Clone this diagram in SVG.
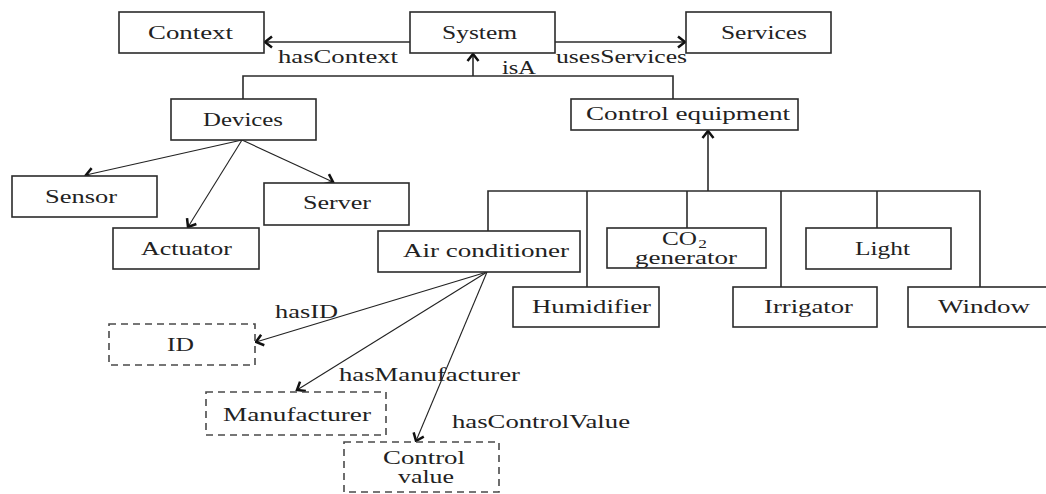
<svg xmlns="http://www.w3.org/2000/svg" width="1046" height="494" viewBox="0 0 1046 494">
  <style>
    .box { fill: #fff; stroke: #2b2b2b; stroke-width: 1.6; }
    .dbox { fill: #fff; stroke: #4a4a4a; stroke-width: 1.6; stroke-dasharray: 7 5; }
    .t { font-family: "Liberation Serif", "Times New Roman", serif; font-size: 19px; fill: #222; }
    .sub { font-family: "Liberation Serif", "Times New Roman", serif; font-size: 13px; fill: #222; }
    .edge { fill: none; stroke: #2b2b2b; stroke-width: 1.6; }
    .thin { fill: none; stroke: #222; stroke-width: 1.1; }
  </style>
  <defs>
    <marker id="chev" markerUnits="userSpaceOnUse" markerWidth="14" markerHeight="14" viewBox="-10 -7 12 14" refX="0" refY="0" orient="auto">
      <path d="M-7,-5.5 L0,0 L-7,5.5" fill="none" stroke="#111" stroke-width="2.5" stroke-linejoin="miter"/>
    </marker>
  </defs>

  <!-- connectors -->
  <g id="connectors">
    <!-- System relations -->
    <line class="edge" x1="410" y1="42" x2="265" y2="42" marker-end="url(#chev)"/>
    <line class="edge" x1="555" y1="42" x2="685" y2="42" marker-end="url(#chev)"/>
    <!-- isA tree -->
    <path class="edge" d="M243,99 V76 H673 V99"/>
    <line class="edge" x1="473" y1="76" x2="473" y2="54" marker-end="url(#chev)"/>
    <!-- control equipment bus -->
    <line class="edge" x1="708" y1="191" x2="708" y2="131" marker-end="url(#chev)"/>
    <path class="edge" d="M488,231 V191 H980 V287"/>
    <line class="edge" x1="587" y1="191" x2="587" y2="287"/>
    <line class="edge" x1="687" y1="191" x2="687" y2="228"/>
    <line class="edge" x1="781" y1="191" x2="781" y2="287"/>
    <line class="edge" x1="877" y1="191" x2="877" y2="228"/>
    <!-- device kinds -->
    <line class="thin" x1="242" y1="140" x2="86" y2="175" marker-end="url(#chev)"/>
    <line class="thin" x1="242" y1="140" x2="188" y2="227" marker-end="url(#chev)"/>
    <line class="thin" x1="242" y1="140" x2="333" y2="182" marker-end="url(#chev)"/>
    <!-- air conditioner properties -->
    <line class="thin" x1="487" y1="272" x2="256" y2="342" marker-end="url(#chev)"/>
    <line class="thin" x1="487" y1="272" x2="297" y2="390" marker-end="url(#chev)"/>
    <line class="thin" x1="487" y1="272" x2="416" y2="441" marker-end="url(#chev)"/>
    <!-- edge labels -->
    <text class="t" x="278" y="63" textLength="120" lengthAdjust="spacingAndGlyphs">hasContext</text>
    <text class="t" x="556" y="63" textLength="131" lengthAdjust="spacingAndGlyphs">usesServices</text>
    <text class="t" x="502" y="74" textLength="34" lengthAdjust="spacingAndGlyphs">isA</text>
    <text class="t" x="275" y="318" textLength="63" lengthAdjust="spacingAndGlyphs">hasID</text>
    <text class="t" x="339" y="381" textLength="181" lengthAdjust="spacingAndGlyphs">hasManufacturer</text>
    <text class="t" x="452" y="428" textLength="178" lengthAdjust="spacingAndGlyphs">hasControlValue</text>
  </g>

  <!-- nodes -->
  <g id="context">
    <rect class="box" x="119" y="12" width="145" height="41"/>
    <text class="t" x="148" y="39" textLength="85" lengthAdjust="spacingAndGlyphs">Context</text>
  </g>
  <g id="system">
    <rect class="box" x="410" y="12" width="145" height="41"/>
    <text class="t" x="442" y="39" textLength="75" lengthAdjust="spacingAndGlyphs">System</text>
  </g>
  <g id="services">
    <rect class="box" x="686" y="12" width="145" height="41"/>
    <text class="t" x="721" y="39" textLength="86" lengthAdjust="spacingAndGlyphs">Services</text>
  </g>
  <g id="devices">
    <rect class="box" x="171" y="99" width="145" height="41"/>
    <text class="t" x="203" y="126" textLength="80" lengthAdjust="spacingAndGlyphs">Devices</text>
  </g>
  <g id="control-equipment">
    <rect class="box" x="571" y="99" width="227" height="31"/>
    <text class="t" x="586" y="120" textLength="204" lengthAdjust="spacingAndGlyphs">Control equipment</text>
  </g>
  <g id="sensor">
    <rect class="box" x="12" y="176" width="145" height="41"/>
    <text class="t" x="45" y="203" textLength="72" lengthAdjust="spacingAndGlyphs">Sensor</text>
  </g>
  <g id="server">
    <rect class="box" x="264" y="183" width="145" height="42"/>
    <text class="t" x="303" y="209" textLength="68" lengthAdjust="spacingAndGlyphs">Server</text>
  </g>
  <g id="actuator">
    <rect class="box" x="113" y="228" width="146" height="41"/>
    <text class="t" x="141" y="255" textLength="91" lengthAdjust="spacingAndGlyphs">Actuator</text>
  </g>
  <g id="air-conditioner">
    <rect class="box" x="378" y="231" width="202" height="41"/>
    <text class="t" x="403" y="257" textLength="166" lengthAdjust="spacingAndGlyphs">Air conditioner</text>
  </g>
  <g id="co2-generator">
    <rect class="box" x="607" y="228" width="159" height="40"/>
    <text class="t" x="662" y="245" textLength="45" lengthAdjust="spacingAndGlyphs">CO<tspan class="sub" dx="1" dy="3">2</tspan></text>
    <text class="t" x="635" y="264" textLength="102" lengthAdjust="spacingAndGlyphs">generator</text>
  </g>
  <g id="light">
    <rect class="box" x="806" y="228" width="145" height="41"/>
    <text class="t" x="855" y="255" textLength="55" lengthAdjust="spacingAndGlyphs">Light</text>
  </g>
  <g id="humidifier">
    <rect class="box" x="513" y="287" width="146" height="40"/>
    <text class="t" x="532" y="313" textLength="119" lengthAdjust="spacingAndGlyphs">Humidifier</text>
  </g>
  <g id="irrigator">
    <rect class="box" x="733" y="287" width="144" height="40"/>
    <text class="t" x="764" y="313" textLength="89" lengthAdjust="spacingAndGlyphs">Irrigator</text>
  </g>
  <g id="window">
    <rect class="box" x="908" y="287" width="145" height="40"/>
    <text class="t" x="938" y="313" textLength="92" lengthAdjust="spacingAndGlyphs">Window</text>
  </g>
  <g id="id">
    <rect class="dbox" x="109" y="324" width="146" height="41"/>
    <text class="t" x="167" y="351" textLength="27" lengthAdjust="spacingAndGlyphs">ID</text>
  </g>
  <g id="manufacturer">
    <rect class="dbox" x="206" y="392" width="180" height="43"/>
    <text class="t" x="223" y="421" textLength="148" lengthAdjust="spacingAndGlyphs">Manufacturer</text>
  </g>
  <g id="control-value">
    <rect class="dbox" x="344" y="442" width="155" height="50"/>
    <text class="t" x="383" y="464" textLength="82" lengthAdjust="spacingAndGlyphs">Control</text>
    <text class="t" x="398" y="483" textLength="56" lengthAdjust="spacingAndGlyphs">value</text>
  </g>
</svg>
